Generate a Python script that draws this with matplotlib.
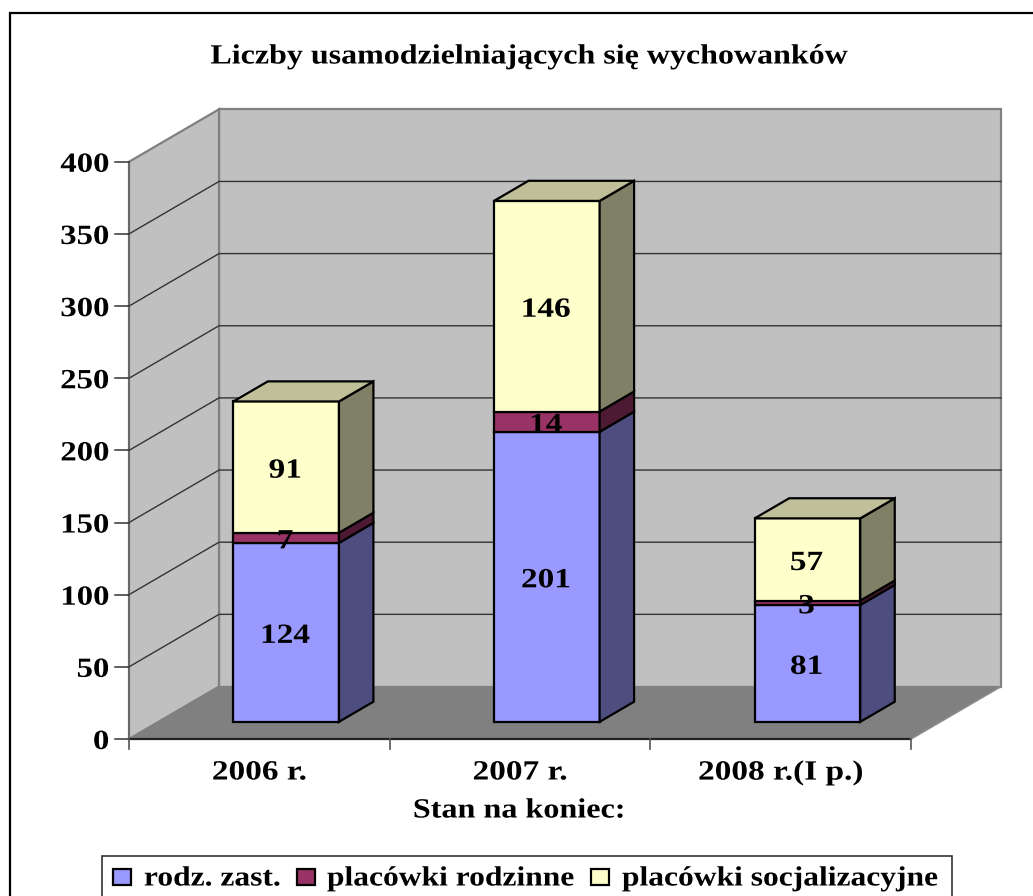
#!/usr/bin/env python3
# -*- coding: utf-8 -*-
"""Stacked 3D-look column chart drawn on a flat axes with a sheared depth."""

import matplotlib
matplotlib.use("Agg")
import matplotlib.pyplot as plt
from matplotlib.patches import Polygon, Rectangle
from matplotlib.patheffects import AbstractPathEffect
from matplotlib.transforms import Affine2D

# === DATA ===
CATEGORIES = ["2006 r.", "2007 r.", "2008 r.(I p.)"]
SERIES_NAMES = ["rodz. zast.", "placówki rodzinne", "placówki socjalizacyjne"]
RODZ_ZAST = [124, 201, 81]
PLACOWKI_RODZINNE = [7, 14, 3]
PLACOWKI_SOCJAL = [91, 146, 57]
Y_TICKS = [0, 50, 100, 150, 200, 250, 300, 350, 400]
TITLE = "Liczby usamodzielniających się wychowanków"
X_TITLE = "Stan na koniec:"

# === STYLE / LAYOUT (edit here) ===
W, H = 1033, 896
PX_X0, PX_Y0 = 129.0, 739.0      # front plane origin, in pixels
PX_PER_CAT = 260.67
PX_PER_VAL = 1.443
DEPTH_X = 90.0 / PX_PER_CAT      # whole depth in category units
DEPTH_Y = 52.5 / PX_PER_VAL      # whole depth in value units
BAR_D0, BAR_D1 = 0.327, 0.71
BAR_CENTER, BAR_WIDTH = 0.49, 0.405
FRONT_COLORS = ["#9999ff", "#993366", "#ffffcc"]
SIDE_COLORS = ["#4d4d80", "#4d1a33", "#808066"]
TOP_COLOR = "#bfbf99"
WALL = "#c0c0c0"
WALL_EDGE = "#808080"
FLOOR = "#808080"
SERIF = "Liberation Serif"


class StretchX(AbstractPathEffect):
    """Widen drawn glyphs; the reference text is stretched horizontally."""

    def __init__(self, sx, anchor="center"):
        super().__init__()
        self.sx = sx
        self.anchor = anchor

    def draw_path(self, renderer, gc, tpath, affine, rgbFace=None):
        box = tpath.get_extents(affine)
        x0 = {"left": box.x0, "right": box.x1, "center": (box.x0 + box.x1) / 2}[self.anchor]
        stretched = affine + Affine2D().translate(-x0, 0).scale(self.sx, 1).translate(x0, 0)
        renderer.draw_path(gc, tpath, stretched, rgbFace)


def proj(x, v, d):
    """Category/value/depth to flat data coordinates."""
    return (x + d * DEPTH_X, v + d * DEPTH_Y)


def px_text(fig, x, y, s, size, sx, anchor="center"):
    t = fig.text(x / W, 1 - y / H, s, fontsize=size, family=SERIF, fontweight="bold",
                 ha=anchor, va="center", color="black")
    t.set_path_effects([StretchX(sx, anchor)])


def val_text(ax, x, v, s, sx, anchor="center"):
    t = ax.text(x, v, s, fontsize=20, family=SERIF, fontweight="bold",
                ha=anchor, va="center", zorder=5)
    t.set_path_effects([StretchX(sx, anchor)])


def face(ax, pts, color, lw=1.6, edge="black", z=3):
    ax.add_patch(Polygon(pts, closed=True, facecolor=color, edgecolor=edge,
                         linewidth=lw, joinstyle="miter", zorder=z))


def draw_walls(ax, x_max, y_max):
    # floor, back wall, left wall
    face(ax, [proj(0, 0, 0), proj(x_max, 0, 0), proj(x_max, 0, 1), proj(0, 0, 1)], FLOOR, lw=0, z=1)
    face(ax, [proj(0, 0, 1), proj(x_max, 0, 1), proj(x_max, y_max, 1), proj(0, y_max, 1)], WALL,
         lw=1.6, edge=WALL_EDGE, z=1)
    face(ax, [proj(0, 0, 0), proj(0, 0, 1), proj(0, y_max, 1), proj(0, y_max, 0)], WALL,
         lw=1.6, edge=WALL_EDGE, z=1)
    for v in Y_TICKS[1:-1]:
        a, b, c = proj(0, v, 0), proj(0, v, 1), proj(x_max, v, 1)
        ax.plot([a[0], b[0], c[0]], [a[1], b[1], c[1]], color="#333333", lw=1.0, zorder=2)


def draw_axes_lines(ax, x_max, y_max):
    ax.plot([0, 0], [0, y_max], color="#666666", lw=1.3, zorder=2)
    ax.plot([0, x_max], [0, 0], color="#222222", lw=1.6, zorder=2)
    a, b = proj(x_max, 0, 0), proj(x_max, 0, 1)
    ax.plot([a[0], b[0]], [a[1], b[1]], color="#8a8a8a", lw=1.2, zorder=2)
    tick_y = 10.0 / PX_PER_VAL
    for v in Y_TICKS:
        ax.plot([-14.0 / PX_PER_CAT, 0], [v, v], color="#333333", lw=1.1, zorder=2)
    for i in range(len(CATEGORIES) + 1):
        ax.plot([i, i], [0, -tick_y], color="#555555", lw=1.2, zorder=2)


def draw_bar(ax, i, stacks):
    left = i + BAR_CENTER - BAR_WIDTH / 2
    right = i + BAR_CENTER + BAR_WIDTH / 2
    base = 0.0
    for k, val in enumerate(stacks):
        top = base + val
        face(ax, [proj(left, base, BAR_D0), proj(right, base, BAR_D0),
                  proj(right, top, BAR_D0), proj(left, top, BAR_D0)], FRONT_COLORS[k])
        face(ax, [proj(right, base, BAR_D0), proj(right, base, BAR_D1),
                  proj(right, top, BAR_D1), proj(right, top, BAR_D0)], SIDE_COLORS[k])
        base = top
    face(ax, [proj(left, base, BAR_D0), proj(right, base, BAR_D0),
              proj(right, base, BAR_D1), proj(left, base, BAR_D1)], TOP_COLOR)

    base = 0.0
    for val in stacks:
        cx, cy = proj(i + BAR_CENTER, base + val / 2, BAR_D0)
        # small nudge: va=center sits above the digits' visual middle
        val_text(ax, cx - 1.0 / PX_PER_CAT, cy - 4.0 / PX_PER_VAL, str(val), 1.2)
        base += val


def main():
    plt.rcParams["font.family"] = [SERIF, "DejaVu Serif"]
    fig = plt.figure(figsize=(W / 100, H / 100), dpi=100, facecolor="white")
    ax = fig.add_axes([0, 0, 1, 1])
    ax.set_xlim(-PX_X0 / PX_PER_CAT, (W - PX_X0) / PX_PER_CAT)
    ax.set_ylim(-(H - PX_Y0) / PX_PER_VAL, PX_Y0 / PX_PER_VAL)
    ax.axis("off")

    x_max = len(CATEGORIES)
    y_max = Y_TICKS[-1]
    draw_walls(ax, x_max, y_max)
    draw_axes_lines(ax, x_max, y_max)
    for i in range(len(CATEGORIES)):
        draw_bar(ax, i, (RODZ_ZAST[i], PLACOWKI_RODZINNE[i], PLACOWKI_SOCJAL[i]))

    # outer chart frame, runs past the right and bottom edges
    fig.add_artist(Rectangle((10 / W, -0.02), 1.1, 1.02 - 13 / H, transform=fig.transFigure,
                             fill=False, edgecolor="black", linewidth=1.6))

    px_text(fig, 529, 57, TITLE, 20, 1.152)
    for v in Y_TICKS:
        val_text(ax, -20.0 / PX_PER_CAT, v - 3.5 / PX_PER_VAL, str(v), 1.18, anchor="right")
    for i, c in enumerate(CATEGORIES):
        val_text(ax, i + 0.5, -34.0 / PX_PER_VAL, c, 1.2)
    px_text(fig, 519, 811, X_TITLE, 20, 1.158)

    # legend box, cut off by the bottom of the picture
    fig.add_artist(Rectangle((102 / W, -0.02), 850 / W, 0.02 + 40 / H, transform=fig.transFigure,
                             facecolor="white", edgecolor="#333333", linewidth=1.2))
    swatches = [113, 297, 591]
    labels_x = [144, 327, 622]
    for k, name in enumerate(SERIES_NAMES):
        fig.add_artist(Rectangle((swatches[k] / W, 1 - 885 / H), 18 / W, 16 / H,
                                 transform=fig.transFigure, facecolor=FRONT_COLORS[k],
                                 edgecolor="black", linewidth=1.6))
        px_text(fig, labels_x[k], 879, name, 20, 1.135, anchor="left")

    fig.savefig("out.png", dpi=100)


if __name__ == "__main__":
    main()
